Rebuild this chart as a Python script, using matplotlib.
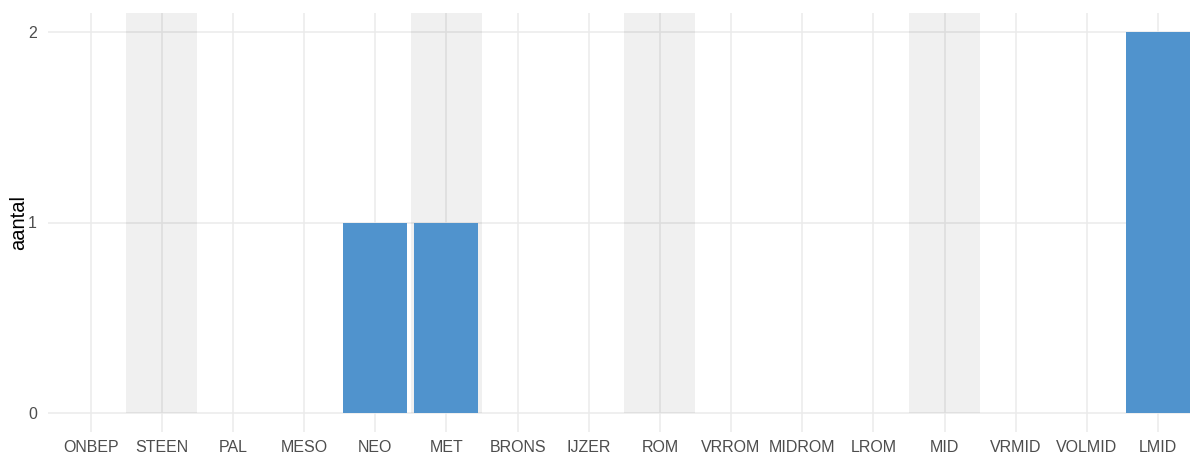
import matplotlib
matplotlib.use("Agg")
import matplotlib.pyplot as plt

# perioden en aantallen
perioden = ["ONBEP", "STEEN", "PAL", "MESO", "NEO", "MET", "BRONS", "IJZER",
            "ROM", "VRROM", "MIDROM", "LROM", "MID", "VRMID", "VOLMID", "LMID"]
aantal = [0, 0, 0, 0, 1, 1, 0, 0, 0, 0, 0, 0, 0, 0, 0, 2]
# hoofdperiodes met grijze achtergrond
banden = ["STEEN", "MET", "ROM", "MID"]
y_ticks = [0, 1, 2]

plt.rcParams['font.family'] = ['Liberation Sans', 'DejaVu Sans']

fig = plt.figure(figsize=(11.9, 4.55), dpi=100)
ax = fig.add_axes([48 / 1190, 23 / 455, (1190 - 48) / 1190, (432 - 13) / 455])

x = list(range(len(perioden)))

# rasterlijnen
for xi in x:
    ax.axvline(xi, color="#EBEBEB", lw=1.1, zorder=0)
for yt in y_ticks:
    ax.axhline(yt, color="#EBEBEB", lw=1.1, zorder=0)

# grijze banden vanaf 0 tot bovenkant
for b in banden:
    i = perioden.index(b)
    ax.axvspan(i - 0.5, i + 0.5, ymin=0.1 / 2.2, ymax=1, color="black",
               alpha=0.058, lw=0, zorder=1)

ax.bar(x, aantal, width=0.9, color="#5093CD", zorder=2)

ax.set_xlim(-0.6, 15.45)
ax.set_ylim(-0.1, 2.1)
ax.set_xticks(x)
ax.set_xticklabels(perioden)
ax.set_yticks(y_ticks)
ax.tick_params(length=0, labelsize=11.5, labelcolor="#4D4D4D")
ax.tick_params(axis="x", pad=6)
ax.tick_params(axis="y", pad=8)
ax.set_ylabel("aantal", fontsize=14.5, color="black", labelpad=0)
for s in ax.spines.values():
    s.set_visible(False)

fig.savefig("out.png", dpi=100)
